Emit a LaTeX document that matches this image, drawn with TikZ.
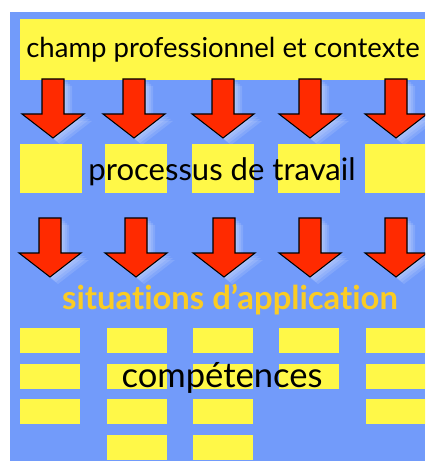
\documentclass[tikz,border=0pt]{standalone}
\usepackage{fontspec}
\setmainfont{Lato}[Ligatures=NoCommon]
\definecolor{bgblue}{RGB}{114,155,250}
\definecolor{boxyellow}{RGB}{255,248,72}
\definecolor{arrowred}{RGB}{255,42,0}
\definecolor{textgold}{RGB}{250,204,36}
\begin{document}
\begin{tikzpicture}[x=0.03cm,y=-0.03cm,inner sep=0pt,outer sep=0pt,
ybox/.style={fill=boxyellow},
txt/.style={text=black},
downarrow/.pic={
  \foreach \s in {2,4,6,8}
    \fill[white,opacity=0.12,shift={(\s,\s-1)}] (-11,0) -- (-11,35) -- (-31,35) -- (0,59) -- (31,35) -- (11,35) -- (11,0) -- cycle;
  \filldraw[fill=arrowred,draw=black,line width=0.9pt] (-11,0) -- (-11,35) -- (-31,35) -- (0,59) -- (31,35) -- (11,35) -- (11,0) -- cycle;
}]

\useasboundingbox (0,0) rectangle (425,461);
\clip (0,0) rectangle (425,461);
\fill[bgblue] (10,12) rectangle (425,461);

% top bar
\fill[ybox] (20,19) rectangle (425,80);
\node[txt,font=\fontsize{23.5}{28}\selectfont] (champ) at (223,50) {champ professionnel et contexte};

% first row of arrows
\foreach \x in {53,134,223,310,396}
  \pic at (\x,79) {downarrow};

% work process blocks
\foreach \x in {20,105,192,278,365}
  \fill[ybox] (\x,144) rectangle ++(62,49);
\node[txt,font=\fontsize{26.5}{30}\selectfont] (proc) at (222,172) {processus de travail};

% second row of arrows
\foreach \x in {50,136,224,310,396}
  \pic at (\x,218) {downarrow};

\node[font=\fontsize{28}{32}\selectfont\bfseries,text=textgold] (sit) at (230,300) {situations d’application};

% competence blocks
\foreach \x/\n in {20/3,107/4,193/4,279/2,366/3}
  \foreach \r in {1,...,\n}
    \fill[ybox] (\x,{328+(\r-1)*35.7}) rectangle ++(60,25);
\node[txt,font=\fontsize{29.5}{34}\selectfont] (comp) at (222,378) {compétences};
\end{tikzpicture}
\end{document}
